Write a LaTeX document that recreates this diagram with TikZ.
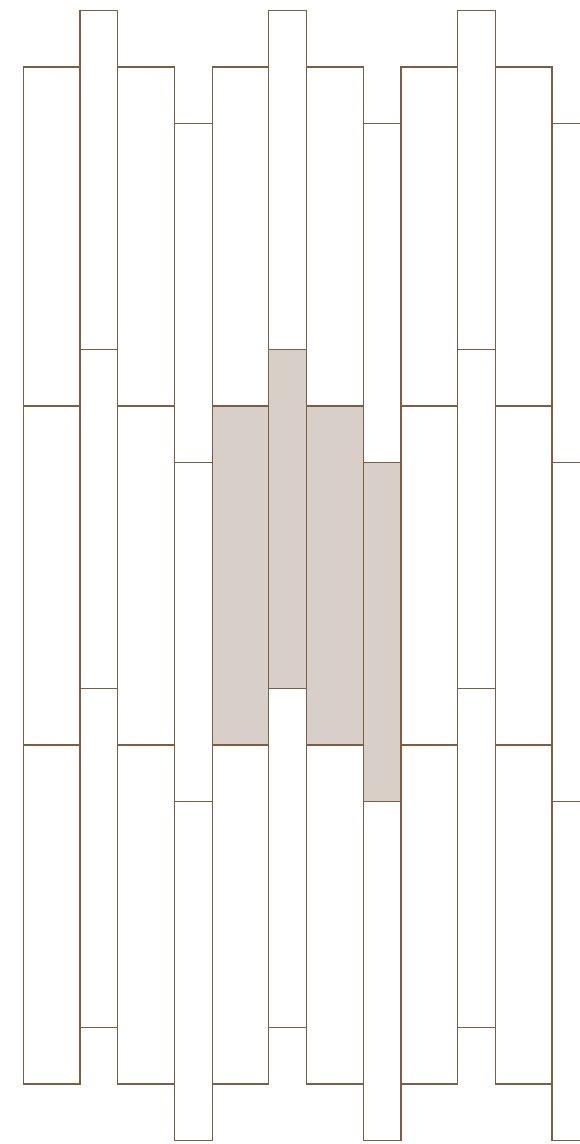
\documentclass[tikz,border=0pt]{standalone}
\definecolor{tileline}{HTML}{7D5E45}
\definecolor{tilefill}{HTML}{D9CFC9}
\begin{document}
\begin{tikzpicture}[x=1pt,y=-1pt,tile/.style={draw=tileline,line width=1.2pt},hl/.style={fill=tilefill}]
\useasboundingbox (0,0) rectangle (580,1144);
\clip (0,0) rectangle (580,1144);
% shaded tiles
\fill[hl] (212.1,406) rectangle +(56.7,339);
\fill[hl] (268.8,349.5) rectangle +(37.7,339);
\fill[hl] (306.5,406) rectangle +(56.7,339);
\fill[hl] (363.2,462.5) rectangle +(37.7,339);
% wide planks
\foreach \k in {0,...,5} {
  \foreach \r in {0,1,2} \draw[tile] ({23.3+94.4*\k},{67+339*\r}) rectangle +(56.7,339);
}
% narrow planks, alternating offset
\foreach \k/\t in {0/10.5,1/123.5,2/10.5,3/123.5,4/10.5,5/123.5} {
  \foreach \r in {0,1,2} \draw[tile] ({80+94.4*\k},{\t+339*\r}) rectangle +(37.7,339);
}
\end{tikzpicture}
\end{document}
